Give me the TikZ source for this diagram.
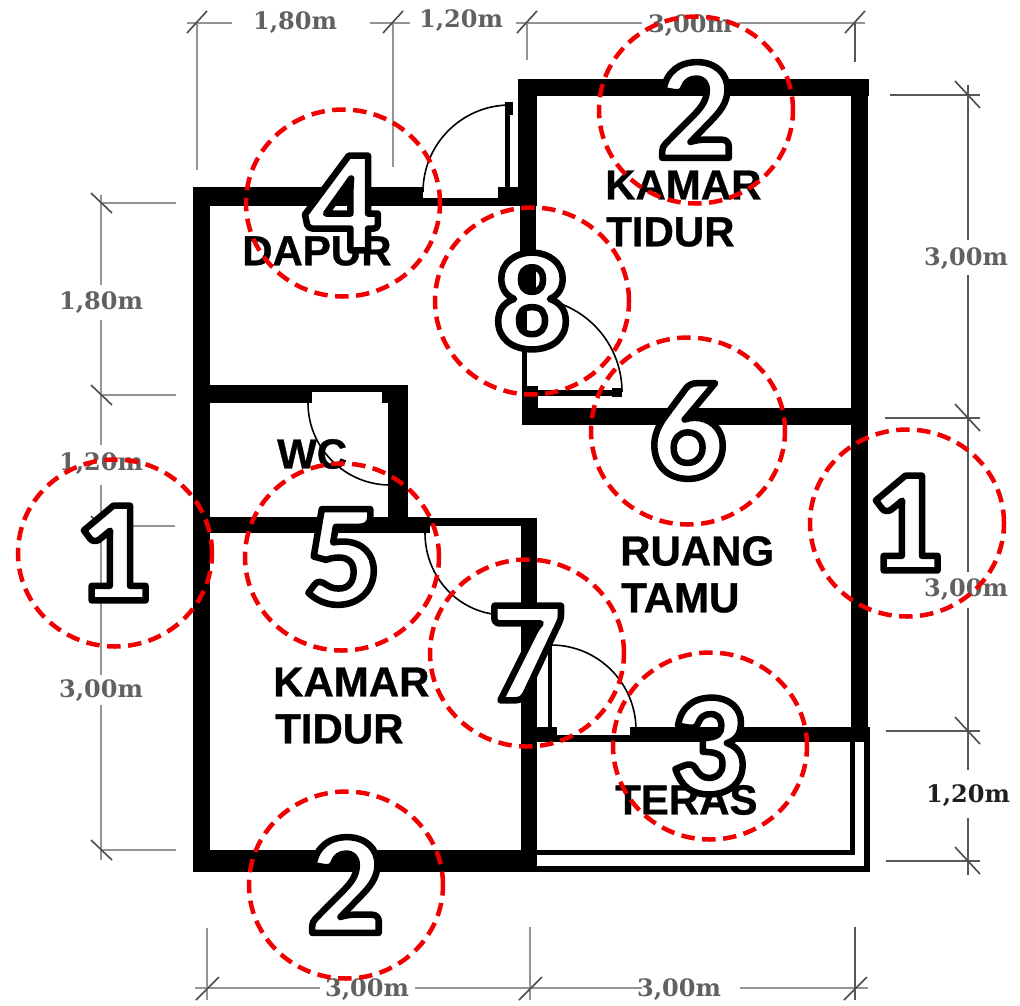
\documentclass[tikz,border=0pt]{standalone}
\usepackage{fontspec}
\usetikzlibrary{shapes.geometric}
\setmainfont{Liberation Sans}
\newfontfamily\dimfont{DejaVu Serif}
\newfontfamily\numfont{Lato Black}
\newfontfamily\roomfont[FakeBold=0.8]{Liberation Sans Bold}
\newcommand{\outlinedigit}[1]{\special{pdf:literal direct q 2 Tr 6.5 w 0 0 0 RG 1 1 1 rg 1 j}#1\special{pdf:literal direct Q}}
\tikzset{
 x=1pt,y=-1pt,
 wall/.style={fill=black},
 doorarc/.style={draw=black,line width=1.6pt},
 dimgrey/.style={draw=black!42,line width=2.2pt},
 dimdark/.style={draw=black!65,line width=1.4pt},
 dimtick/.style={draw=black!70,line width=1.6pt},
 dimlabel/.style={font=\dimfont\bfseries\fontsize{24}{24}\selectfont,text=black!62,inner sep=0pt},
 roomlabel/.style={font=\roomfont\fontsize{42}{42}\selectfont,text=black,inner sep=0pt},
 marker/.style={ellipse,draw={rgb,255:red,240;green,0;blue,0},line width=4.5pt,dash pattern=on 13.5pt off 7.5pt,
   minimum width=194pt,minimum height=187pt,inner sep=0pt,font=\numfont\fontsize{130}{130}\selectfont},
}
\begin{document}
\begin{tikzpicture}
\useasboundingbox (0,0) rectangle (1020,1005);
\fill[white] (0,0) rectangle (1020,1005);
% dimension lines: top
\draw[dimgrey] (187,23) -- (232,23) (370,23) -- (410,23) (516,23) -- (642,23) (738,23) -- (865,23);
\draw[dimgrey] (197,23) -- (197,170) (393,23) -- (393,167) (527,23) -- (527,60);
\draw[dimdark] (855,23) -- (855,62);
\foreach \p in {197,393,527,855} \draw[dimtick] (\p-10,33) -- (\p+10,11);
% left
\draw[dimgrey] (101,195) -- (101,285) (101,320) -- (101,445) (101,485) -- (101,675) (101,705) -- (101,860);
\draw[dimgrey] (100,203) -- (176,203) (100,395) -- (176,395) (130,526) -- (175,526) (100,850) -- (176,850);
\foreach \p in {203,395,526,850} \draw[dimtick] (91,\p-10) -- (112,\p+10);
% right
\draw[dimdark] (968,85) -- (968,240) (968,275) -- (968,572) (968,608) -- (968,770) (968,818) -- (968,875);
\draw[dimdark] (890,95) -- (980,95) (885,418) -- (980,418) (886,731) -- (980,731) (886,861) -- (980,861);
\foreach \p in {95,418,731,861} \draw[dimtick] (955,\p-14) -- (980,\p+13);
% bottom
\draw[dimgrey] (195,988) -- (320,988) (415,988) -- (642,988) (740,988) -- (868,988);
\draw[dimgrey] (207,928) -- (207,1000) (530,927) -- (530,1000);
\draw[dimdark] (855,927) -- (855,1000);
\foreach \p in {207,530,855} \draw[dimtick] (\p-11,1000) -- (\p+12,977);
% walls
\fill[wall] (193,187) rectangle (210,872);
\fill[wall] (193,187) rectangle (423,206);
\fill[wall] (423,198) rectangle (520,206);
\fill[wall] (498,187) rectangle (520,206);
\fill[wall] (518,79) rectangle (537,206);
\fill[wall] (518,79) rectangle (869,96);
\fill[wall] (851,79) rectangle (868,742);
\fill[wall] (520,206) rectangle (536,300);
\fill[wall] (522,300) rectangle (527,390);
\fill[wall] (522,386) rectangle (538,425);
\fill[wall] (522,408) rectangle (868,425);
\fill[wall] (537,390) rectangle (622,396);
\fill[wall] (612,388) rectangle (622,397);
\fill[wall] (505,102) rectangle (513,115);
\fill[wall] (505,105) rectangle (510,190);
\fill[wall] (210,385) rectangle (312,403);
\fill[wall] (312,385) rectangle (388,392);
\fill[wall] (382,385) rectangle (408,403);
\fill[wall] (388,385) rectangle (408,533);
\fill[wall] (210,517) rectangle (430,533);
\fill[wall] (430,518) rectangle (537,526);
\fill[wall] (521,518) rectangle (537,872);
\fill[wall] (193,850) rectangle (537,872);
\fill[wall] (548,645) rectangle (552,730);
\fill[wall] (537,727) rectangle (557,742);
\fill[wall] (537,735) rectangle (630,742);
\fill[wall] (630,727) rectangle (870,742);
\fill[wall] (850,742) rectangle (855,855);
\fill[wall] (864,742) rectangle (870,872);
\fill[wall] (537,850) rectangle (855,855);
\fill[wall] (537,866) rectangle (870,872);
% door swings
\draw[doorarc] (510,105) .. controls (462,105) and (423,144) .. (423,192);
\draw[doorarc] (622,392) .. controls (622,340) and (580,298) .. (528,298);
\draw[doorarc] (551,645) .. controls (598,645) and (636,683) .. (636,730);
\draw[doorarc] (308,403) .. controls (308,448) and (345,485) .. (390,485);
\draw[doorarc] (425,533) .. controls (425,578) and (460,615) .. (505,615);
% dimension labels
\node[dimlabel] (d1) at (295,23) {1,80m};
\node[dimlabel] (d2) at (461,21) {1,20m};
\node[dimlabel] (d3) at (690,26) {3,00m};
\node[dimlabel] (d4) at (101,303) {1,80m};
\node[dimlabel] (d5) at (101,464) {1,20m};
\node[dimlabel] (d6) at (101,691) {3,00m};
\node[dimlabel] (d7) at (966,259) {3,00m};
\node[dimlabel] (d8) at (966,590) {3,00m};
\node[dimlabel,text=black!88] (d9) at (968,796) {1,20m};
\node[dimlabel] (d10) at (367,990) {3,00m};
\node[dimlabel] (d11) at (679,990) {3,00m};
% room labels
\node[roomlabel,anchor=west] (r1) at (605,185) {KAMAR};
\node[roomlabel,anchor=west] (r2) at (606,232) {TIDUR};
\node[roomlabel,anchor=west] (r3) at (242,251) {DAPUR};
\node[roomlabel,anchor=west] (r4) at (277,454) {WC};
\node[roomlabel,anchor=west] (r5) at (620,551) {RUANG};
\node[roomlabel,anchor=west] (r6) at (621,598) {TAMU};
\node[roomlabel,anchor=west] (r7) at (273,682) {KAMAR};
\node[roomlabel,anchor=west] (r8) at (275,729) {TIDUR};
\node[roomlabel,anchor=west] (r9) at (615,800) {TERAS};
% markers
\node[marker] (m1a) at (115,553) {\outlinedigit{1}};
\node[marker] (m1b) at (907,523) {\outlinedigit{1}};
\node[marker] (m2a) at (696,110) {\outlinedigit{2}};
\node[marker] (m2b) at (346,885) {\outlinedigit{2}};
\node[marker] (m3) at (710,746) {\outlinedigit{3}};
\node[marker] (m4) at (343,203) {\outlinedigit{4}};
\node[marker] (m5) at (342,557) {\outlinedigit{5}};
\node[marker] (m6) at (688,431) {\outlinedigit{6}};
\node[marker] (m7) at (527,653) {\outlinedigit{7}};
\node[marker] (m8) at (532,301) {\outlinedigit{8}};
\end{tikzpicture}
\end{document}
